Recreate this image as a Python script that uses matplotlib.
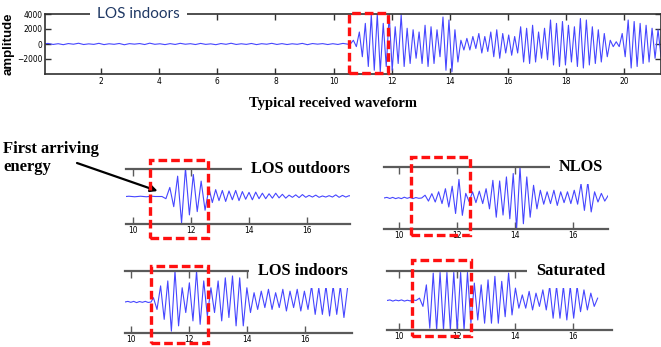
import numpy as np
import matplotlib
matplotlib.use('Agg')
import matplotlib.pyplot as plt
from matplotlib import font_manager
from matplotlib.font_manager import FontProperties
from matplotlib.patches import Rectangle
import matplotlib.transforms as mtransforms

# ---------------- data ----------------
# Top waveform: pre-arrival noise (counts), then extrema of the arriving signal
top_noise_step = 0.175
top_noise = [0, 80, -60, 40, -90, 60, -30, 100, -70, 20, -50, 90, -80, 30, -40, 70,
             -100, 50, -20, 60, -70, 110, -40, 30, -80, 50, -60, 90, -30, 40, -70, 80,
             -50, 20, -90, 60, -40, 100, -60, 30, -50, 70, -80, 40, -30, 90, -60, 50,
             -70, 30, -40, 80, -90, 60, -20, 50, -70, 40, -60, 80, -30]
top_onset = 10.58
top_half_period = 0.1028
top_peaks = [500, -350, 1600, -1700, 2750, -3000, 3900, -3500, 4000, -3700, 2750, -3000,
             3900, -3500, 2300, -2600, 3900, -3000, 2100, -2600, 1900, -1900, 1600, -2600,
             2500, -3000, 2300, -2600, 1900, -1700, 3600, -3500, 3200, -3700, 1900, -2400,
             500, -800, 750, -800, 1000, -600, 1400, -1200, 1000, -1000, 1600, -1700,
             1900, -1900, 1400, -1200, 1200, -1500, 1000, -1200, 2300, -2400, 2100, -2600,
             2500, -2400, 1600, -1900, 2100, -2100, 3200, -2800, 2750, -3000, 3000, -2800,
             2500, -2400, 2300, -3000, 3400, -3200, 3200, -2800, 2300, -2600, 1900, -2400,
             1400, -1700, 500, -350, 300, -350, 1400, -1700, 3200, -3200, 3000, -3000,
             2750, -2600, 2500, -2400, 2100, -1900, 1900, -1700]
top_xticks = [2, 4, 6, 8, 10, 12, 14, 16, 18, 20]
top_yticks = [4000, 2000, 0, -2000]
top_label = 'LOS indoors'
top_box = (10.53, 11.88)

panel_xticks = [10, 12, 14, 16]

# LOS outdoors (normalised amplitude)
out_pre = [0, 0.01, 0, -0.01, 0, 0.01, 0, -0.01, 0, 0.01, 0, 0]
out_burst_t0, out_burst_step = 11.0, 0.135
out_burst = [0, -0.08, 0.33, -0.37, 0.74, -0.96, 1.03, -0.67, 0.8, -0.55, 0.56, -0.5, 0.3]
out_tail_t0, out_tail_step = 12.735, 0.115
out_tail = [-0.22, 0.25, -0.15, 0.22, -0.18, 0.2, -0.12, 0.22, -0.15, 0.18, -0.1, 0.15,
            -0.12, 0.16, -0.08, 0.12, -0.08, 0.1, -0.06, 0.12, -0.05, 0.08, -0.06, 0.05,
            -0.03, 0.06, -0.04, 0.07, -0.03, 0.04, -0.02, 0.05, -0.03, 0.02, -0.02, 0.03,
            -0.02, 0.06, -0.03, 0.04, -0.02, 0.03, 0]

# NLOS
nlos_pre = [0, 0.02, -0.015, 0.02, -0.02, 0.01, -0.02, 0.025, -0.01, 0.02, -0.02, 0.015, -0.01]
nlos_t0, nlos_step = 10.78, 0.117
nlos_main = [0, 0.09, -0.1, 0.14, -0.13, 0.2, -0.18, 0.3, -0.29, 0.38, -0.5, 0.6, -0.56,
             0.15, -0.12, 0.2, -0.15, 0.22, -0.18, 0.3, -0.35, 0.57, -0.62, 0.55, -0.55,
             0.68, -0.67, 0.79, -1.0, 1.0, -0.83, 0.68, -0.62, 0.41, -0.35, 0.25, -0.2,
             0.2, -0.18, 0.25, -0.24, 0.2, -0.15, 0.2, -0.18, 0.25, -0.2, 0.46, -0.4,
             0.52, -0.45, 0.2, -0.13, 0.15, -0.1, 0.08]

# LOS indoors
ind_pre = [0, 0.02, -0.01, 0.02, -0.02, 0.015, -0.01, 0.02, -0.015, 0]
ind_t0, ind_step = 10.77, 0.124
ind_main = [0.14, -0.24, 0.52, -0.56, 0.68, -0.94, 1.0, -0.77, 0.46, -0.34, 0.62, -0.61,
            1.0, -0.72, 0.68, -0.45, 0.46, -0.34, 0.68, -0.61, 0.78, -0.5, 0.84, -0.77,
            0.78, -0.77, 0.46, -0.34, 0.3, -0.24, 0.35, -0.18, 0.41, -0.24, 0.3, -0.18,
            0.41, -0.29, 0.35, -0.18, 0.41, -0.29, 0.35, -0.24, 0.52, -0.4, 0.46, -0.4,
            0.52, -0.45, 0.52, -0.4, 0.52, -0.5, 0.46]

# Saturated
sat_pre = [0, 0.02, -0.02, 0.015, -0.01, 0.02, -0.02, 0.01, -0.015, 0.02, 0]
sat_t0, sat_step = 10.71, 0.118
sat_main = [0.08, -0.2, 0.53, -0.94, 0.93, -1.0, 0.95, -1.0, 0.95, -1.0, 0.95, -1.0,
            0.95, -1.0, 0.95, -0.77, 0.59, -0.66, 0.53, -0.77, 0.7, -0.77, 0.82, -0.77,
            0.65, -0.55, 0.93, -0.49, 0.42, -0.26, 0.19, -0.26, 0.31, -0.32, 0.25, -0.2,
            0.36, -0.32, 0.48, -0.6, 0.48, -0.6, 0.48, -0.66, 0.48, -0.6, 0.48, -0.38,
            0.36, -0.32, 0.25, -0.2, 0.08]

# --------------------------------------------------------------
narrow_file = None
for f in font_manager.fontManager.ttflist:
    fn = f.fname.replace('-', '').lower()
    if 'liberationsansnarrowregular' in fn or 'dejavusanscondensed.ttf' in fn:
        narrow_file = f.fname
        break
if narrow_file:
    TICKFP = FontProperties(fname=narrow_file, size=6.0)
else:
    TICKFP = FontProperties(family='Liberation Sans', size=5.3)

SERIF = 'Liberation Serif'
WAVE = '#4646ff'
RED = '#ff1010'
W, H = 661, 347


def seg(t0, step, vals):
    return t0 + step * np.arange(len(vals)), np.asarray(vals, float)


def join(*segs):
    t = np.concatenate([s[0] for s in segs])
    v = np.concatenate([s[1] for s in segs])
    return t, v


def fr(x0, y0, x1, y1):
    """pixel box (top-left origin) -> figure fraction rect"""
    return [x0 / W, 1 - y1 / H, (x1 - x0) / W, (y1 - y0) / H]


fig = plt.figure(figsize=(W / 100, H / 100), dpi=100)

# ---------------- top panel ----------------
ax = fig.add_axes(fr(45, 14, 661, 74))
t, v = join(seg(0.0, top_noise_step, top_noise),
            seg(top_onset, top_half_period, [0] + top_peaks))
ax.plot(t, v, color=WAVE, lw=0.8)
ax.set_xlim(0.07, 21.27)
ax.set_ylim(-4000, 4000)
ax.set_xticks(top_xticks)
ax.set_yticks(top_yticks)
for s in ax.spines.values():
    s.set_color('#303030')
    s.set_linewidth(1.2)
ax.tick_params(direction='in', top=True, right=True, length=4, width=1, color='#303030', pad=2)
for lab in ax.get_xticklabels() + ax.get_yticklabels():
    lab.set_fontproperties(TICKFP)
ax.set_ylabel('amplitude', fontsize=9.5, fontweight='bold', family='Liberation Sans', va='center')
ax.yaxis.set_label_coords(-0.059, 0.5)
ax.text(0.0844, 1.0, top_label, transform=ax.transAxes, ha='left', va='center',
        fontsize=11, family='Lato', color='#1f3864',
        bbox=dict(boxstyle='square,pad=0.45', fc='white', ec='none'), clip_on=False, zorder=4)
trans = mtransforms.blended_transform_factory(ax.transData, ax.transAxes)
ax.add_patch(Rectangle((top_box[0], 0.02), top_box[1] - top_box[0], 1.0, transform=trans,
                       fill=False, ec=RED, lw=2.4, ls=(0, (2.6, 1.2)), clip_on=False, zorder=6))

fig.text(333 / W, 1 - 103 / H, 'Typical received waveform', ha='center', va='center',
         fontsize=10.5, fontweight='bold', family=SERIF)

# ---------------- small panels ----------------
panels = [
    dict(name='LOS outdoors', rect=(126, 169, 350, 224), xlim=(9.76, 17.48),
         data=join(seg(9.76, 0.1, out_pre), seg(out_burst_t0, out_burst_step, out_burst),
                   seg(out_tail_t0, out_tail_step, out_tail)),
         label_x=1.0, box=(10.59, 12.59, -0.25, 1.16)),
    dict(name='NLOS', rect=(384, 167, 608, 229), xlim=(9.48, 17.21),
         data=join(seg(9.48, 0.1, nlos_pre), seg(nlos_t0, nlos_step, nlos_main)),
         label_x=0.978, box=(10.41, 12.45, -0.10, 1.16)),
    dict(name='LOS indoors', rect=(125, 271, 352, 333), xlim=(9.79, 17.62),
         data=join(seg(9.79, 0.1, ind_pre), seg(ind_t0, ind_step, ind_main)),
         label_x=0.982, box=(10.69, 12.66, -0.16, 1.08)),
    dict(name='Saturated', rect=(387, 271, 612, 330), xlim=(9.59, 17.34),
         data=join(seg(9.59, 0.1, sat_pre), seg(sat_t0, sat_step, sat_main)),
         label_x=0.969, box=(10.45, 12.48, -0.10, 1.19)),
]

axes = []
for p in panels:
    a = fig.add_axes(fr(*p['rect']))
    axes.append(a)
    tt, vv = p['data']
    a.plot(tt, vv, color=WAVE, lw=0.8)
    a.set_xlim(*p['xlim'])
    a.set_ylim(-1.0, 1.0)
    a.set_xticks(panel_xticks)
    a.set_yticks([])
    for side in ('left', 'right'):
        a.spines[side].set_visible(False)
    for side in ('top', 'bottom'):
        a.spines[side].set_color('#5a5a5a')
        a.spines[side].set_linewidth(1.6)
    a.tick_params(axis='x', direction='in', top=True, length=5, width=1, color='#5a5a5a', pad=1.5)
    for lab in a.get_xticklabels():
        lab.set_fontproperties(TICKFP)
    a.text(p['label_x'], 1.0, p['name'], transform=a.transAxes, ha='right', va='center',
           fontsize=11.8, fontweight='bold', family=SERIF,
           bbox=dict(boxstyle='square,pad=0.55', fc='white', ec='none'), clip_on=False, zorder=4)
    tr = mtransforms.blended_transform_factory(a.transData, a.transAxes)
    x0, x1, y0, y1 = p['box']
    a.add_patch(Rectangle((x0, y0), x1 - x0, y1 - y0, transform=tr, fill=False, ec=RED,
                          lw=2.4, ls=(0, (2.6, 1.2)), clip_on=False, zorder=6))

# annotation arrow
fig.text(3 / W, 1 - 141 / H, 'First arriving\nenergy', ha='left', va='top', fontsize=12,
         fontweight='bold', family=SERIF, linespacing=1.15)
axes[0].annotate('', xy=(10.85, 0.2), xycoords='data',
                 xytext=(77 / W, 1 - 163 / H), textcoords='figure fraction',
                 arrowprops=dict(arrowstyle='-|>', color='black', lw=1.6,
                                 mutation_scale=10, shrinkA=0, shrinkB=0),
                 annotation_clip=False)

fig.savefig('out.png', dpi=100)
